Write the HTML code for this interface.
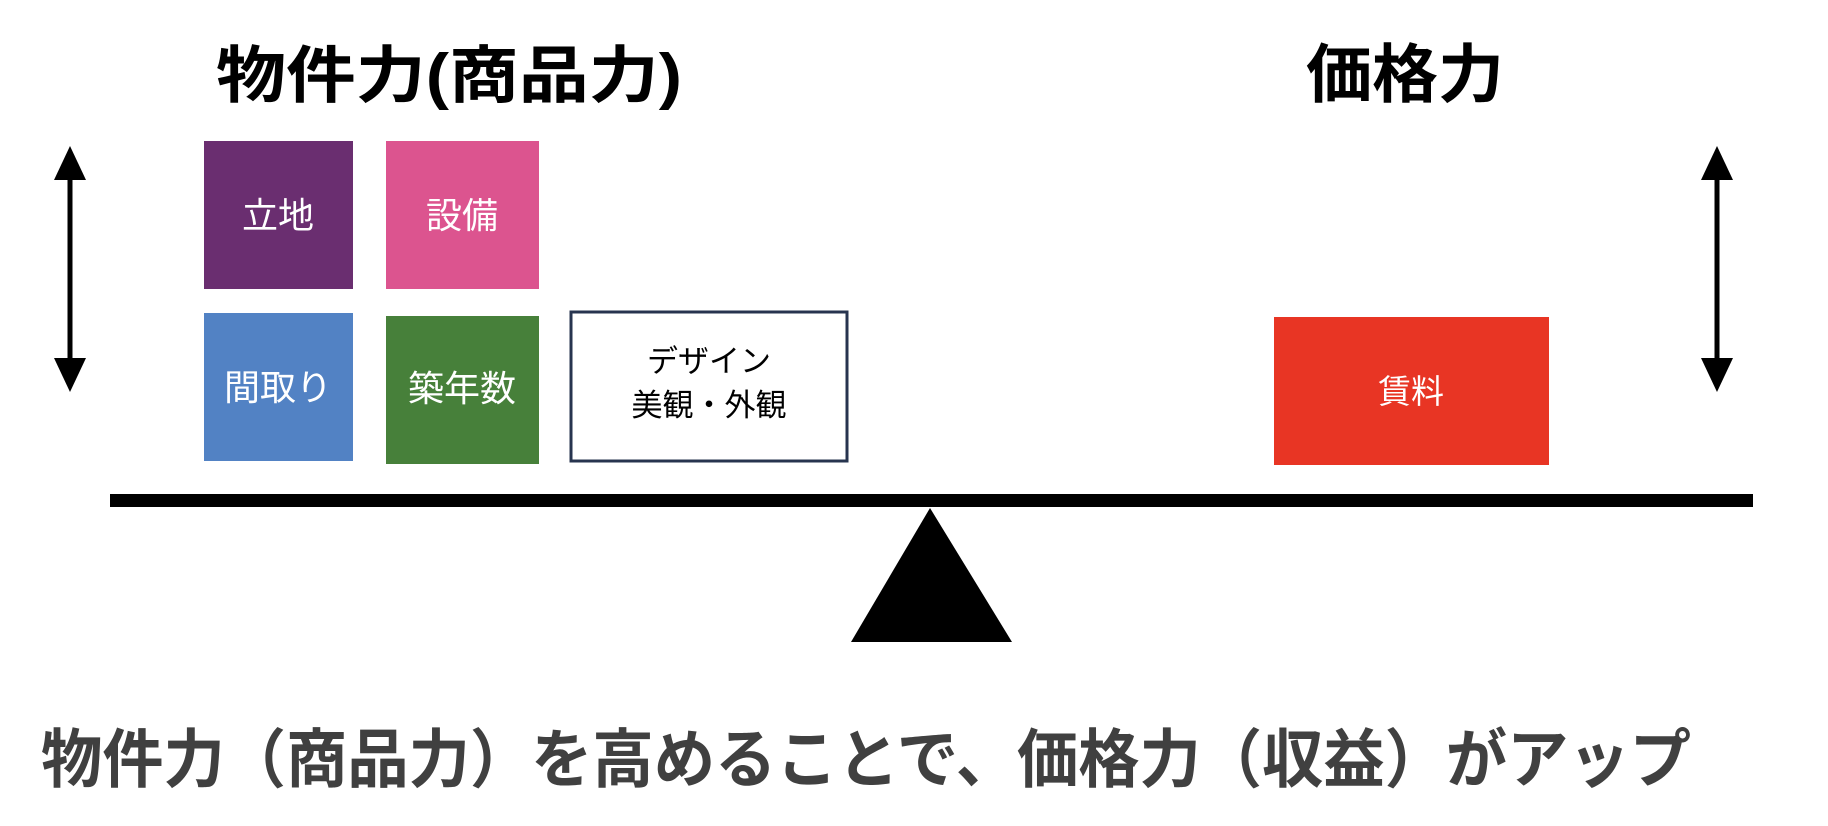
<!DOCTYPE html>
<html><head><meta charset="utf-8"><style>
html,body{margin:0;padding:0;background:#fff;}
svg{display:block}
text{font-family:"Liberation Sans","Noto Sans CJK JP",sans-serif;}
</style></head><body>
<svg width="1828" height="826" viewBox="0 0 1828 826" xmlns="http://www.w3.org/2000/svg">
<defs>
<marker id="ah" markerWidth="10" markerHeight="10" refX="5" refY="5" orient="auto-start-reverse" markerUnits="userSpaceOnUse" viewBox="0 0 10 10"></marker>
</defs>
<!-- titles -->
<text x="216" y="97" font-size="62" font-weight="bold" fill="#000" textLength="466" lengthAdjust="spacingAndGlyphs">物件力(商品力)</text>
<text x="1306" y="97" font-size="64" font-weight="bold" fill="#000" textLength="198" lengthAdjust="spacingAndGlyphs">価格力</text>
<!-- boxes -->
<rect x="204" y="141" width="149" height="148" fill="#6a2e70"/>
<text x="278" y="228" font-size="36" fill="#fff" text-anchor="middle">立地</text>
<rect x="386" y="141" width="153" height="148" fill="#dc548f"/>
<text x="462" y="228" font-size="36" fill="#fff" text-anchor="middle">設備</text>
<rect x="204" y="313" width="149" height="148" fill="#5282c4"/>
<text x="278" y="400" font-size="36" fill="#fff" text-anchor="middle">間取り</text>
<rect x="386" y="316" width="153" height="148" fill="#47803a"/>
<text x="462" y="401" font-size="36" fill="#fff" text-anchor="middle">築年数</text>
<rect x="571" y="312" width="276" height="149" fill="#fff" stroke="#27344f" stroke-width="3"/>
<text x="709" y="372" font-size="31" fill="#000" text-anchor="middle">デザイン</text>
<text x="709" y="416" font-size="31" fill="#000" text-anchor="middle">美観・外観</text>
<rect x="1274" y="317" width="275" height="148" fill="#e83524"/>
<text x="1411" y="403" font-size="33" fill="#fff" text-anchor="middle">賃料</text>
<!-- beam & fulcrum -->
<rect x="110" y="494" width="1643" height="13" fill="#000"/>
<polygon points="930,508 851,642 1012,642" fill="#000"/>
<!-- arrows -->
<line x1="70" y1="176" x2="70" y2="362" stroke="#000" stroke-width="5"/>
<polygon points="70,146 54,180 86,180" fill="#000"/>
<polygon points="70,392 54,358 86,358" fill="#000"/>
<line x1="1717" y1="176" x2="1717" y2="362" stroke="#000" stroke-width="5"/>
<polygon points="1717,146 1701,180 1733,180" fill="#000"/>
<polygon points="1717,392 1701,358 1733,358" fill="#000"/>
<!-- bottom text -->
<text x="41" y="782" font-size="64" font-weight="bold" fill="#404040" textLength="1650" lengthAdjust="spacingAndGlyphs">物件力（商品力）を高めることで、価格力（収益）がアップ</text>
</svg>
</body></html>
